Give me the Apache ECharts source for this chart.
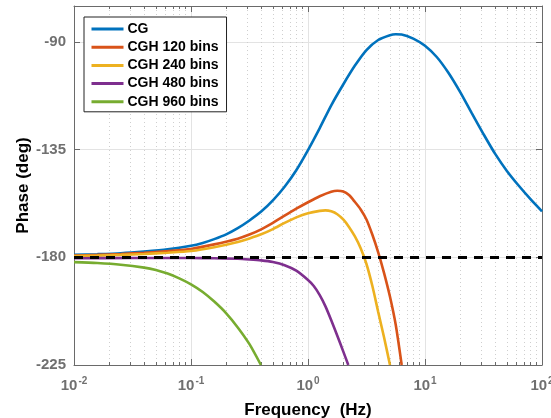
<!DOCTYPE html>
<html>
<head>
<meta charset="utf-8">
<script src="https://cdn.jsdelivr.net/npm/echarts@6/dist/echarts.min.js"></script>
<style>
  html, body { margin: 0; padding: 0; background: #fff; }
  #chart { width: 551px; height: 418px; }
</style>
</head>
<body>
<div id="chart"></div>
<script>
// Phase response of the CG controller and its CGH approximations, [Hz, deg]
const seriesNames = ['CG', 'CGH 120 bins', 'CGH 240 bins', 'CGH 480 bins', 'CGH 960 bins'];

const cg = [
  [0.01, -179.0], [0.0158, -178.7], [0.0251, -178.3], [0.0398, -177.6], [0.0631, -176.7],
  [0.1, -175.2], [0.126, -174.0], [0.158, -172.4], [0.2, -170.4], [0.251, -167.8],
  [0.316, -164.6], [0.398, -160.9], [0.501, -156.2], [0.631, -150.5], [0.794, -143.6],
  [1, -135.2], [1.26, -126.0], [1.58, -116.5], [2.0, -107.8], [2.51, -100.0],
  [3.16, -93.4], [3.98, -89.2], [5.01, -87.2], [5.62, -86.8], [6.31, -86.9],
  [7.94, -88.6], [10, -91.6], [12.6, -96.3], [15.8, -102.8], [20, -111.0],
  [25.1, -119.8], [31.6, -128.5], [39.8, -136.8], [50.1, -143.9], [63.1, -150.0],
  [79.4, -155.6], [100, -160.8]
];
const cgh120 = [
  [0.01, -179.3], [0.0158, -179.0], [0.0251, -178.6], [0.0398, -178.1], [0.0631, -177.4],
  [0.1, -176.5], [0.158, -174.6], [0.251, -172.2], [0.316, -170.5], [0.398, -168.3],
  [0.501, -165.6], [0.631, -162.6], [0.794, -159.7], [1, -157.0], [1.26, -154.5],
  [1.58, -152.6], [1.78, -152.2], [2.0, -152.5], [2.24, -154.0], [2.51, -156.8],
  [2.82, -160.0], [3.16, -164.2], [3.55, -170.6], [3.98, -177.9], [4.47, -186.6],
  [5.01, -196.3], [5.62, -208.2], [6.32, -225.0]
];
const cgh240 = [
  [0.01, -179.5], [0.0158, -179.3], [0.0251, -179.0], [0.0398, -178.6], [0.0631, -178.1],
  [0.1, -177.4], [0.158, -175.8], [0.251, -173.6], [0.316, -172.1], [0.398, -170.4],
  [0.501, -168.2], [0.631, -165.6], [0.794, -163.3], [1, -161.6], [1.26, -160.6],
  [1.41, -160.4], [1.58, -160.8], [1.78, -162.0], [2.0, -164.2], [2.24, -167.3],
  [2.51, -171.2], [2.82, -176.2], [3.16, -182.8], [3.55, -192.0], [3.98, -202.8],
  [4.47, -213.5], [5.02, -225.0]
];
const cgh480 = [
  [0.01, -180.4], [0.0316, -180.3], [0.1, -180.3], [0.158, -180.4], [0.251, -180.6],
  [0.316, -180.9], [0.398, -181.3], [0.501, -182.0], [0.631, -183.3], [0.794, -185.6],
  [1, -189.5], [1.12, -192.0], [1.26, -195.8], [1.41, -200.5], [1.58, -206.3],
  [1.78, -212.8], [2.0, -219.3], [2.21, -225.0]
];
const cgh960 = [
  [0.01, -182.0], [0.0158, -182.4], [0.0251, -183.1], [0.0398, -184.3], [0.0501, -185.3],
  [0.0631, -186.8], [0.0794, -188.8], [0.1, -191.3], [0.126, -194.5], [0.158, -198.5],
  [0.2, -203.4], [0.251, -209.3], [0.316, -216.3], [0.396, -225.0]
];

// Reference level of the dashed line
const refPhase = -180;

// Axis ranges and ticks
const xMin = 0.01, xMax = 100;
const yMin = -225, yMax = -75, yStep = 45;
const decades = [0.01, 0.1, 1, 10, 100];
const minorFreqs = [];
decades.slice(0, -1).forEach(d => { for (let m = 2; m <= 9; m++) minorFreqs.push(+(m * d).toPrecision(3)); });

const colors = ['#0072BD', '#D95319', '#EDB120', '#7E2F8E', '#77AC30'];
const tickGray = '#707070';
const boxGray = '#6a6a6a';
const font = '"Liberation Sans", Arial, Helvetica, sans-serif';

const chart = echarts.init(document.getElementById('chart'), null, { renderer: 'canvas' });

const lineData = [cg, cgh120, cgh240, cgh480, cgh960];
const series = lineData.map((d, i) => ({
  name: seriesNames[i],
  type: 'line',
  xAxisIndex: 0,
  yAxisIndex: 0,
  data: d,
  smooth: 0.25,
  symbol: 'none',
  clip: true,
  lineStyle: { color: colors[i], width: 2.6 },
  itemStyle: { color: colors[i] },
  z: 3,
  animation: false
}));
series[0].markLine = {
  silent: true,
  symbol: 'none',
  label: { show: false },
  z: 10,
  lineStyle: { color: '#000', width: 3, type: [9, 7] },
  data: [{ yAxis: refPhase }],
  animation: false
};

const option = {
  backgroundColor: '#ffffff',
  animation: false,
  color: colors,
  grid: { left: 74, right: 9, top: 6, bottom: 53, show: false, containLabel: false, outerBoundsMode: 'none' },
  legend: {
    orient: 'vertical',
    left: 84,
    top: 17,
    padding: [5, 8, 3, 6],
    itemGap: 4.2,
    itemWidth: 32,
    itemHeight: 14,
    backgroundColor: '#fff',
    borderColor: '#222',
    borderWidth: 1,
    borderRadius: 0,
    itemStyle: { opacity: 0 },
    lineStyle: { width: 3 },
    textStyle: { fontFamily: font, fontWeight: 'bold', fontSize: 14, color: '#000', padding: [0, 0, 0, -1] },
    data: seriesNames
  },
  xAxis: [
    {
      type: 'log', logBase: 10, min: xMin, max: xMax, position: 'bottom',
      name: 'Frequency  (Hz)', nameLocation: 'middle', nameGap: 37, nameMoveOverlap: false,
      nameTextStyle: { fontFamily: font, fontWeight: 'bold', fontSize: 17, color: '#000' },
      axisLine: { show: true, lineStyle: { color: boxGray, width: 1 } },
      axisTick: { show: true, inside: true, length: 6, lineStyle: { color: boxGray } },
      axisLabel: {
        margin: 11,
        formatter: v => '{b|10}{s|' + Math.round(Math.log10(v)) + '}',
        rich: {
          b: { fontFamily: font, fontWeight: 'bold', fontSize: 15, color: tickGray },
          s: { fontFamily: font, fontWeight: 'bold', fontSize: 10, color: tickGray, padding: [0, 0, 9, 1] }
        }
      },
      splitLine: { show: true, lineStyle: { color: '#e3e3e3', width: 1 } }
    },
    {
      type: 'log', logBase: 10, min: xMin, max: xMax, position: 'bottom',
      axisLine: { show: false },
      axisLabel: { show: false },
      axisTick: { show: true, inside: true, length: 3, customValues: minorFreqs, lineStyle: { color: boxGray } },
      splitLine: { show: true, lineStyle: { color: '#cfcfcf', width: 1, type: [1, 3] } }
    },
    {
      type: 'log', logBase: 10, min: xMin, max: xMax, position: 'top',
      axisLine: { show: true, lineStyle: { color: boxGray, width: 1 } },
      axisLabel: { show: false },
      axisTick: { show: true, inside: true, length: 6, lineStyle: { color: boxGray } },
      splitLine: { show: false }
    },
    {
      type: 'log', logBase: 10, min: xMin, max: xMax, position: 'top',
      axisLine: { show: false },
      axisLabel: { show: false },
      axisTick: { show: true, inside: true, length: 3, customValues: minorFreqs, lineStyle: { color: boxGray } },
      splitLine: { show: false }
    }
  ],
  yAxis: [
    {
      type: 'value', min: yMin, max: yMax, interval: yStep, position: 'left',
      name: 'Phase (deg)', nameLocation: 'middle', nameGap: 42, nameMoveOverlap: false,
      nameTextStyle: { fontFamily: font, fontWeight: 'bold', fontSize: 17, color: '#000' },
      axisLine: { show: true, lineStyle: { color: boxGray, width: 1 } },
      axisTick: { show: true, inside: true, length: 6, lineStyle: { color: boxGray } },
      axisLabel: { margin: 8, fontFamily: font, fontWeight: 'bold', fontSize: 15, color: tickGray, showMaxLabel: false },
      splitLine: { show: true, lineStyle: { color: '#e3e3e3', width: 1 } }
    },
    {
      type: 'value', min: yMin, max: yMax, interval: yStep, position: 'right',
      axisLine: { show: true, lineStyle: { color: boxGray, width: 1 } },
      axisTick: { show: true, inside: true, length: 6, lineStyle: { color: boxGray } },
      axisLabel: { show: false },
      splitLine: { show: false }
    }
  ],
  series: series
};

chart.setOption(option);
</script>
</body>
</html>
